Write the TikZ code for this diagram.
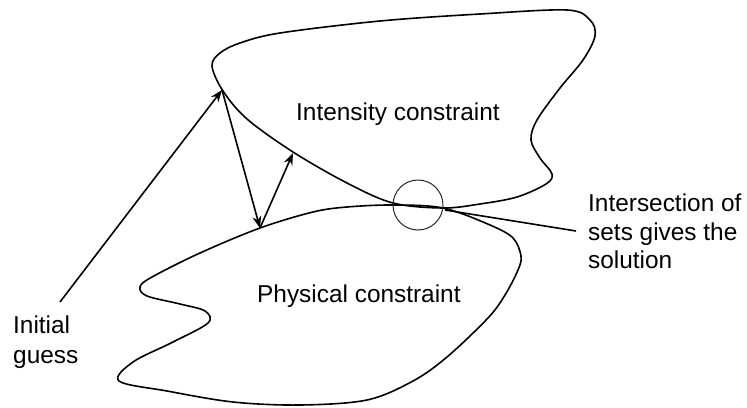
\documentclass[tikz,border=0pt]{standalone}
\usepackage{fontspec}
\setmainfont{Liberation Sans}
\usetikzlibrary{arrows.meta}
\begin{document}
\begin{tikzpicture}[x=1pt,y=-1pt,
  blob/.style={draw=black,line width=1.6pt,line join=round},
  arr/.style={draw=black,line width=1.6pt,-{Stealth[length=12pt,width=9pt]}},
  lbl/.style={inner sep=0pt,anchor=base west,font=\fontsize{24.4}{29}\selectfont}]
\useasboundingbox (0,0) rectangle (747,407);
% upper set (intensity constraint)
\draw[blob] plot[smooth cycle,tension=0.55] coordinates {
  (212,66) (220,53) (240,43) (280,33) (380,21) (480,14) (567,10) (590,20) (595,36)
  (583,60) (560,88) (537,120) (531,140) (540,158) (552,174) (546,184) (517,197)
  (480,204) (443,208) (393,203) (347,183) (293,152) (247,119) (223,91)};
% lower set (physical constraint)
\draw[blob] plot[smooth cycle,tension=0.55] coordinates {
  (443,208) (490,225) (513,238) (521,256) (518,270) (505,295) (488,318) (447,357)
  (413,381) (367,400) (300,405) (233,402) (167,391) (119,381) (133,362) (173,342)
  (208,323) (205,311) (180,304) (147,296) (140,287) (152,277) (200,253) (260,228)
  (313,212) (347,207) (393,205)};
% points
\coordinate (g0) at (60,302);
\coordinate (p1) at (222,90);
\coordinate (p2) at (260,228);
\coordinate (p3) at (293,153);
\coordinate (x0) at (445,210);
\coordinate (x1) at (576,231);
\node[draw=black!85,line width=1pt,circle,minimum size=50pt,inner sep=0pt] (sol) at (418,205) {};
\draw[arr] (g0) -- (p1);
\draw[arr] (p1) -- (p2);
\draw[arr] (p2) -- (p3);
\draw[line width=1.6pt] (x0) -- (x1);
% labels
\node[lbl] (t1) at (296,120) {Intensity constraint};
\node[lbl] (t2) at (257,302) {Physical constraint};
\node[lbl] (t3) at (13,333) {Initial};
\node[lbl] (t4) at (13,363) {guess};
\node[lbl] (t5) at (588,211) {Intersection of};
\node[lbl] (t6) at (588,240) {sets gives the};
\node[lbl] (t7) at (588,268) {solution};
\end{tikzpicture}
\end{document}
